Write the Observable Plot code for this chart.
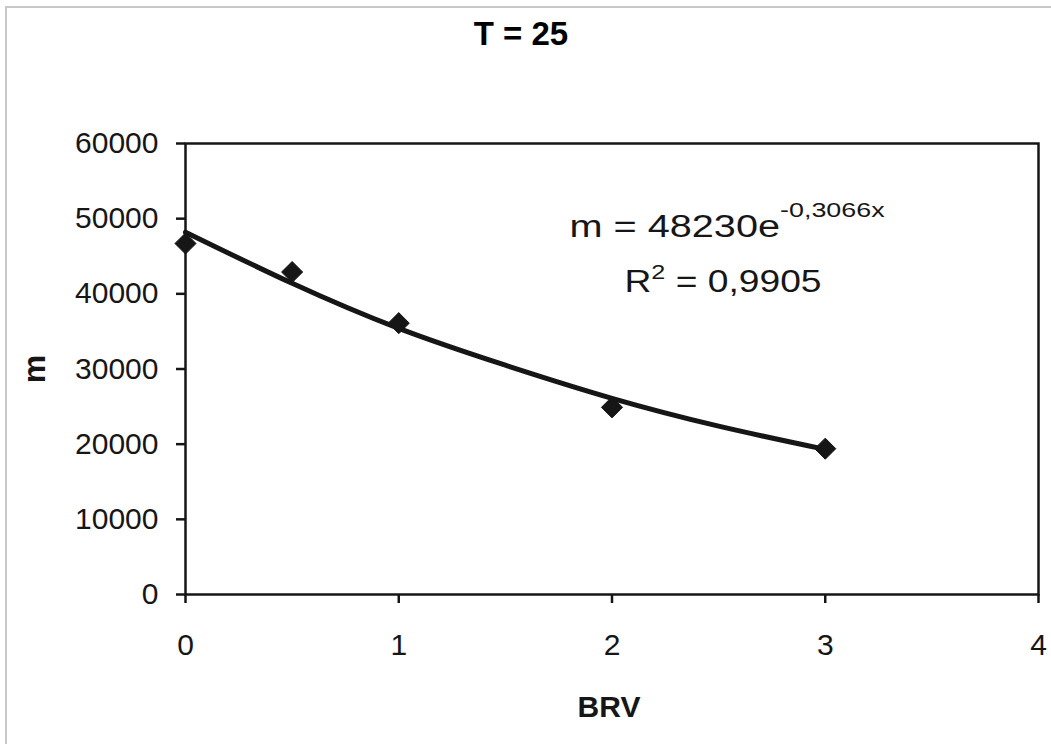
<!DOCTYPE html>
<html>
<head>
<meta charset="utf-8">
<script src="https://cdn.jsdelivr.net/npm/d3@7"></script>
<script src="https://cdn.jsdelivr.net/npm/@observablehq/plot@0.6"></script>
<style>
  html, body { margin: 0; padding: 0; background: #fff; }
  #wrap { position: relative; width: 1051px; height: 744px; overflow: hidden; }
  #border { position: absolute; left: 5px; top: 6px; width: 1100px; height: 800px;
            border-left: 2px solid #c8c8c8; border-top: 2px solid #c8c8c8; }
  #chart { position: absolute; left: 0; top: 0; }
  svg text { font-family: "Liberation Sans", Arial, sans-serif; }
</style>
</head>
<body>
<div id="wrap"><div id="border"></div><div id="chart"></div></div>
<script>
// Measured points
const brv = [0, 0.5, 1, 2, 3];
const mValues = [46700, 42900, 36100, 24900, 19400];

// Trend line
const trendX = [0, 0.5, 1, 1.5, 2, 2.5, 3];
const trendY = [48200, 41400, 35400, 30500, 26100, 22400, 19300];

const xTicks = [0, 1, 2, 3, 4];
const yTicks = [0, 10000, 20000, 30000, 40000, 50000, 60000];

const titleText = "T = 25";
const xLabel = "BRV";
const yLabel = "m";
const eqMain = "m = 48230e";
const eqExp = "-0,3066x";
const r2Base = "R";
const r2Exp = "2";
const r2Rest = " = 0,9905";

const points = brv.map((x, i) => ({x, y: mValues[i]}));
const trend = trendX.map((x, i) => ({x, y: trendY[i]}));

const ink = "#161616";

const plot = Plot.plot({
  width: 1051,
  height: 744,
  marginLeft: 185,
  marginRight: 13,
  marginTop: 143,
  marginBottom: 150,
  style: {fontFamily: "Liberation Sans, Arial, sans-serif", background: "transparent", color: ink},
  x: {domain: [0, 4]},
  y: {domain: [0, 60000]},
  marks: [
    Plot.frame({stroke: ink, strokeWidth: 2.5}),
    Plot.axisX({ticks: xTicks, tickSize: 9, tickPadding: 30, fontSize: 30, label: null,
                strokeWidth: 2.5, tickFormat: d => String(d)}),
    Plot.axisY({ticks: yTicks, tickSize: 9, tickPadding: 18, fontSize: 30, label: null,
                strokeWidth: 2.5, tickFormat: d => String(d)}),
    Plot.line(trend, {x: "x", y: "y", stroke: ink, strokeWidth: 5, curve: "natural"}),
    Plot.dot(points, {x: "x", y: "y", symbol: "diamond2", r: 9.5, fill: ink, stroke: ink, strokeWidth: 1})
  ]
});

document.getElementById("chart").appendChild(plot);

const svg = d3.select(plot);

svg.append("text")
  .attr("x", 521).attr("y", 45)
  .attr("text-anchor", "middle")
  .attr("font-size", 33).attr("font-weight", "bold").attr("fill", "#000")
  .text(titleText);

svg.append("text")
  .attr("x", 609).attr("y", 717)
  .attr("text-anchor", "middle")
  .attr("font-size", 30).attr("font-weight", "bold").attr("fill", ink)
  .text(xLabel);

svg.append("text")
  .attr("transform", "translate(45,369) rotate(-90)")
  .attr("text-anchor", "middle")
  .attr("font-size", 32).attr("font-weight", "bold").attr("fill", ink)
  .text(yLabel);

const eq1 = svg.append("text")
  .attr("transform", "translate(727,237) scale(1.28,1)")
  .attr("text-anchor", "middle")
  .attr("font-size", 31).attr("fill", ink);
eq1.append("tspan").text(eqMain);
eq1.append("tspan").attr("font-size", 21).attr("dy", -20).text(eqExp);

const eq2 = svg.append("text")
  .attr("transform", "translate(723,292) scale(1.2,1)")
  .attr("text-anchor", "middle")
  .attr("font-size", 31).attr("fill", ink);
eq2.append("tspan").text(r2Base);
eq2.append("tspan").attr("font-size", 21).attr("dy", -13).text(r2Exp);
eq2.append("tspan").attr("dy", 13).text(r2Rest);
</script>
</body>
</html>
